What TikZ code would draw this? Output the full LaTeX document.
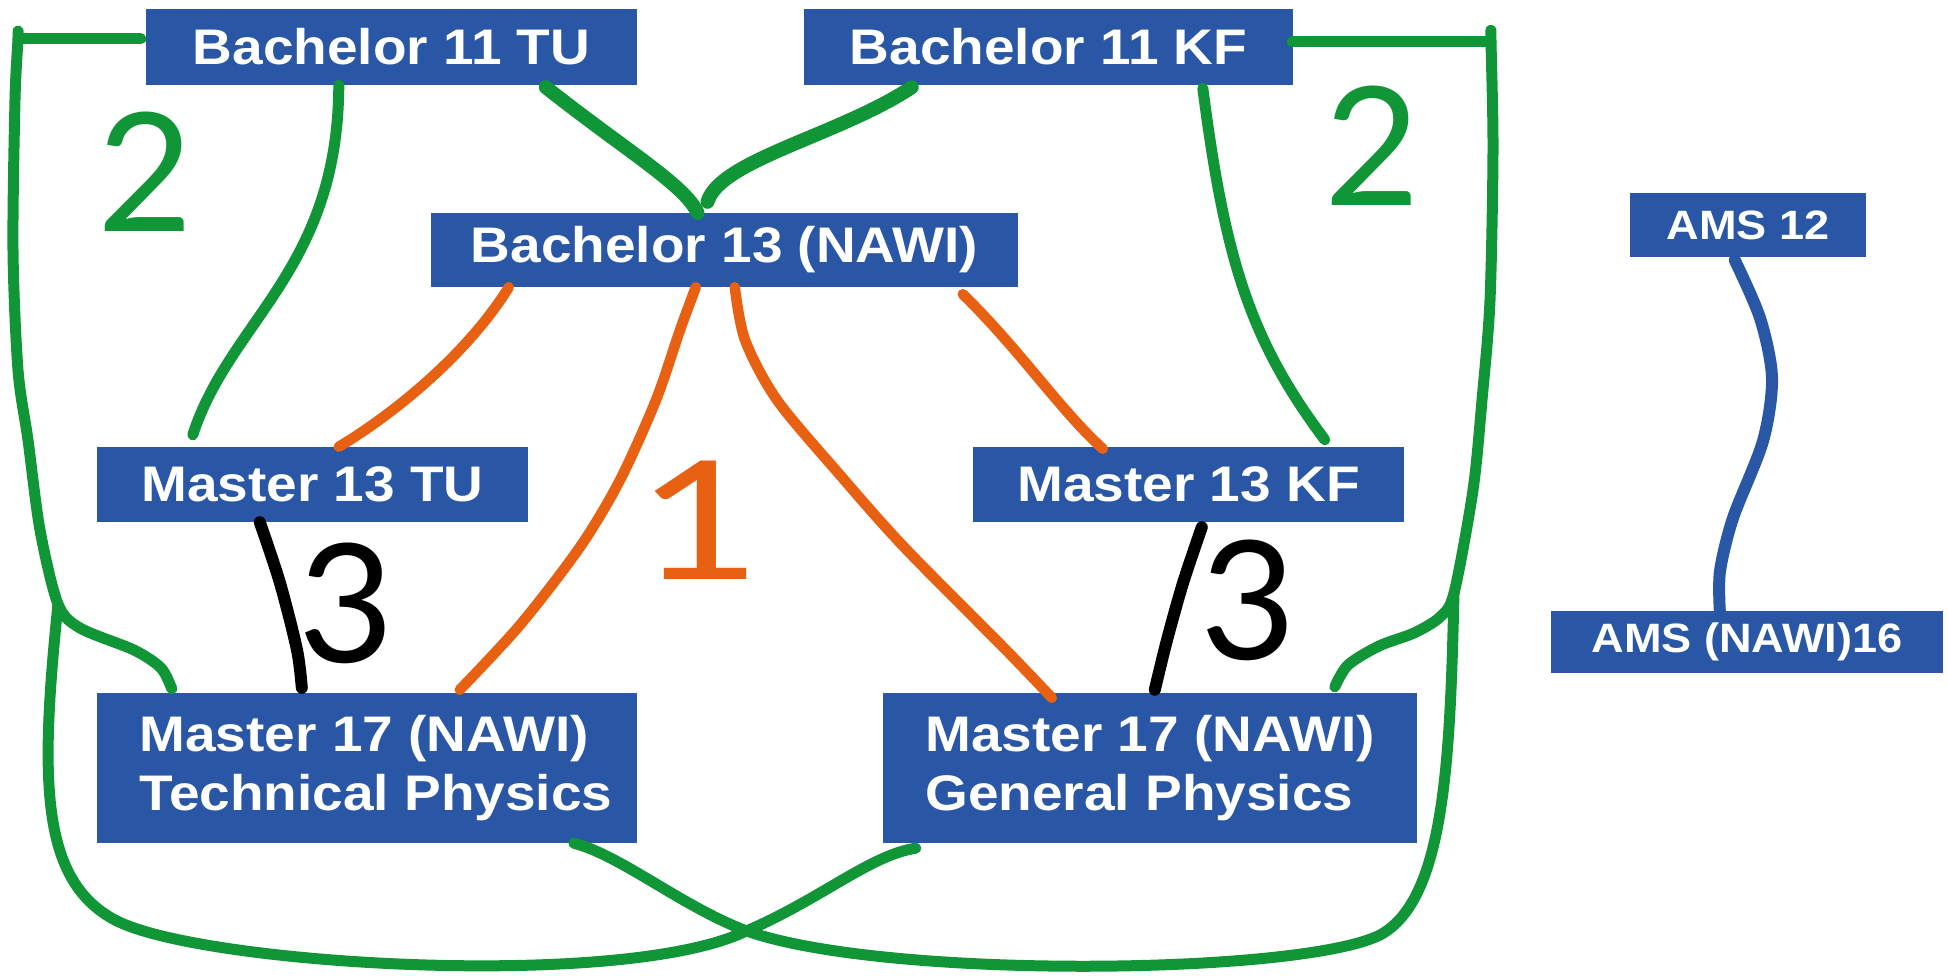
\documentclass[tikz,border=0pt]{standalone}
\usepackage{fontspec}
\newfontfamily\boxfont[FakeStretch=1.1]{Liberation Sans}
\newfontfamily\handfont{Lato}
\usetikzlibrary{calc}
\definecolor{boxblue}{HTML}{2A57A5}
\definecolor{lgreen}{HTML}{109637}
\definecolor{lorange}{HTML}{E86012}
\begin{document}
\begin{tikzpicture}[x=1pt,y=-1pt,
  box/.style={fill=boxblue, text=white, inner sep=0pt, align=left,
    font=\boxfont\bfseries\fontsize{50}{59}\selectfont},
  smallbox/.style={box, font=\boxfont\bfseries\fontsize{41}{48}\selectfont},
  gline/.style={draw=lgreen, line width=11pt, line cap=round, line join=round},
  gthick/.style={gline, line width=14pt},
  oline/.style={draw=lorange, line width=10.5pt, line cap=round, line join=round},
  kline/.style={draw=black, line width=12pt, line cap=round, line join=round},
  bline/.style={draw=boxblue, line width=12pt, line cap=round, line join=round},
  hand/.style={inner sep=0pt, font=\handfont\fontsize{165}{165}\selectfont}]
\useasboundingbox[fill=white] (0,0) rectangle (1948,976);

% boxes
\node[box, minimum width=491pt, minimum height=76pt] (b11tu) at (391.5,47) {Bachelor 11 TU};
\node[box, minimum width=489pt, minimum height=76pt] (b11kf) at (1048.5,47) {Bachelor 11 KF};
\node[box, minimum width=587pt, minimum height=74pt] (b13) at (724.5,250) {Bachelor 13 (NAWI)};
\node[box, minimum width=431pt, minimum height=75pt] (m13tu) at (312.5,484.5) {Master 13 TU};
\node[box, minimum width=431pt, minimum height=75pt] (m13kf) at (1188.5,484.5) {Master 13 KF};
\node[box, minimum width=540pt, minimum height=150pt] (m17tp) at (367,768) {\hspace*{18pt}Master 17 (NAWI)\\\hspace*{18pt}Technical Physics};
\node[box, minimum width=534pt, minimum height=150pt] (m17gp) at (1150,768) {Master 17 (NAWI)\\General Physics};
\node[smallbox, minimum width=236pt, minimum height=64pt] (ams12) at (1748,225) {AMS 12};
\node[smallbox, minimum width=392pt, minimum height=62pt] (ams16) at (1747,642) {AMS (NAWI)16};

% free ends / junctions
\coordinate (lcorner) at (18,39);
\coordinate (rcorner) at (1491,42);
\coordinate (ljunc) at (58,604);
\coordinate (rjunc) at (1454,593);

% green connectors
\draw[gthick] ($(b11tu.south west)+(400,2)$) .. controls (625,150) and (685,185) .. ($(b13.north)+(-27,0)$);
\draw[gthick] ($(b11kf.south west)+(108,2)$) .. controls (840,135) and (720,160) .. ($(b13.north)+(-17,-11)$);
\draw[gline] ($(b11tu.south west)+(193,0)$) .. controls (338,270) and (230,320) .. ($(m13tu.north west)+(96,-12)$);
\draw[gline] ($(b11kf.south west)+(399,3)$) .. controls (1225,260) and (1250,340) .. ($(m13kf.north west)+(352,-7)$);
% left outer
\draw[gline] ($(b11tu.west)+(-5,-8)$) -- (lcorner);
\draw[gline] plot[smooth] coordinates {(18,31) (lcorner) (15,100) (13,250) (18,370) (28,440) (40,530) (ljunc) (80,628) (134,650) (161,668) ($(m17tp.north west)+(75,-4)$)};
\draw[gline] (ljunc) .. controls (40,780) and (40,880) .. (115,920)
  .. controls (200,965) and (620,990) .. (744,932)
  .. controls (820,900) and (870,855) .. ($(m17gp.south west)+(33,5)$);
% right outer
\draw[gline] ($(b11kf.east)+(-1,-5)$) -- (rcorner);
\draw[gline] plot[smooth] coordinates {(1491,31) (rcorner) (1493,150) (1490,300) (1482,400) (1473,490) (rjunc) (1440,617) (1414,633) (1379,646) (1348,665) ($(m17gp.north west)+(452,-6)$)};
\draw[gline] (rjunc) .. controls (1450,760) and (1445,900) .. (1380,935)
  .. controls (1300,975) and (880,980) .. (744,930)
  .. controls (680,905) and (620,855) .. ($(m17tp.south west)+(477,0)$);

% orange connectors
\draw[oline] ($(b13.south west)+(78,0)$) .. controls (470,350) and (400,410) .. ($(m13tu.north west)+(242,0)$);
\draw[oline] plot[smooth] coordinates {($(b13.south west)+(265,0)$) (680,330) (656,400) (620,480) (580,547) (520,625) ($(m17tp.north west)+(363,-3)$)};
\draw[oline] plot[smooth] coordinates {($(b13.south west)+(304,0)$) (745,340) (777,400) (840,475) (904,547) (1006,650) ($(m17gp.north west)+(169,5)$)};
\draw[oline] ($(b13.south west)+(532,7)$) .. controls (1020,350) and (1060,410) .. ($(m13kf.north west)+(130,2)$);

% black connectors
\draw[kline] plot[smooth] coordinates {($(m13tu.south west)+(163,0)$) (280,583) (297,650) ($(m17tp.north west)+(205,-5)$)};
\draw[kline] plot[smooth] coordinates {($(m13kf.south west)+(229,5)$) (1183,583) (1167,640) ($(m17gp.north west)+(272,-3)$)};

% blue connector
\draw[bline] plot[smooth] coordinates {($(ams12.south west)+(105,3)$) (1760,318) (1772,378) (1763,441) (1733,518) (1720,571) ($(ams16.north west)+(169,0)$)};

% handwritten labels
\node[hand, text=lgreen] (lab2l) at (145,172) {2};
\node[hand, text=lgreen] (lab2r) at (1372,146) {2};
\node[hand, text=lorange] (lab1) at (700,520) {\scalebox{1.3}[1]{1}};
\node[hand, text=black] (lab3l) at (346,603) {3};
\node[hand, text=black] (lab3r) at (1248,600) {3};
\end{tikzpicture}
\end{document}
